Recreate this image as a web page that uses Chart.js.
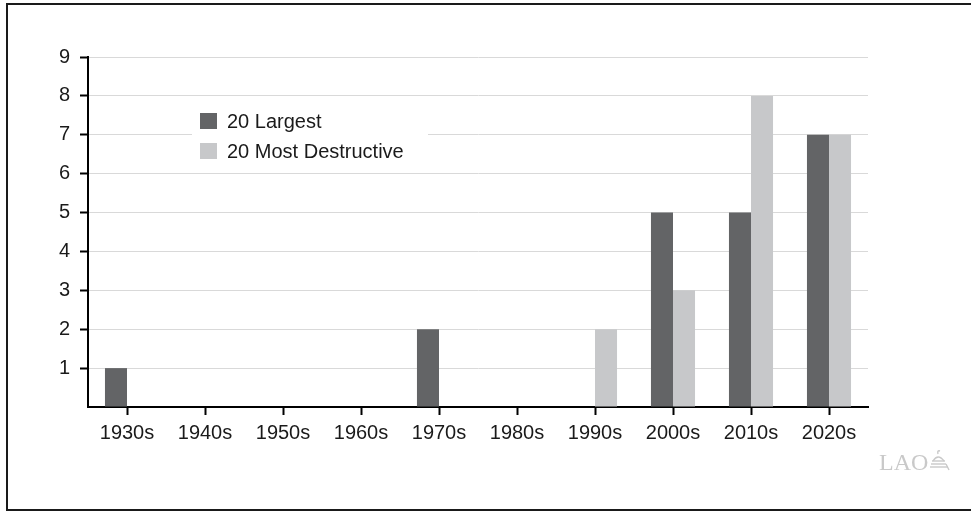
<!DOCTYPE html>
<html>
<head>
<meta charset="utf-8">
<script src="https://cdn.jsdelivr.net/npm/chart.js@4.4.1/dist/chart.umd.min.js"></script>
<style>
    html, body { margin: 0; padding: 0; background: #fff; }
    #wrap { position: relative; width: 971px; height: 512px; overflow: hidden; }
    #frame {
        position: absolute; left: 6px; top: 3px; width: 975px; height: 508px;
        border: 2px solid #1a1a1a; box-sizing: border-box;
    }
    #chart { position: absolute; left: 0; top: 0; }
    #logo {
        position: absolute; left: 879px; top: 449px;
        font-family: "Liberation Serif", "DejaVu Serif", serif;
        font-size: 24px; color: #c9c9c9;
        display: flex; align-items: flex-end;
    }
    #logo svg { margin-left: 1px; margin-bottom: 5px; }
</style>
</head>
<body>
<div id="wrap">
    <div id="frame"></div>
    <canvas id="chart" width="971" height="512"></canvas>
    <div id="logo">LAO<svg width="21" height="22" viewBox="0 0 21 22">
        <g fill="none" stroke="#c9c9c9" stroke-width="1.4">
            <path d="M9 5 Q8 1 11 2"/>
            <path d="M4 12 Q9 4 15 12"/>
            <line x1="3" y1="12" x2="16" y2="12"/>
            <line x1="2" y1="15" x2="17" y2="15"/>
            <line x1="1" y1="18" x2="19" y2="18"/>
            <line x1="17" y1="15" x2="20" y2="21"/>
        </g>
    </svg></div>
</div>
<script>
// Decades on the x axis
const decades = ['1930s', '1940s', '1950s', '1960s', '1970s', '1980s', '1990s', '2000s', '2010s', '2020s'];

// Number of fires per decade
const largest = [1, 0, 0, 0, 2, 0, 0, 5, 5, 7];
const mostDestructive = [0, 0, 0, 0, 0, 0, 2, 3, 8, 7];

const seriesLabels = ['20 Largest', '20 Most Destructive'];
const seriesColors = ['#636466', '#c7c8ca'];

const FONT = '"Liberation Sans", Arial, Helvetica, sans-serif';

// Legend drawn inside the plot, on a white box that hides the gridlines
const insideLegend = {
    id: 'insideLegend',
    afterDatasetsDraw(chart) {
        const ctx = chart.ctx;
        ctx.save();
        ctx.fillStyle = '#fff';
        ctx.fillRect(192, 104, 236, 62);
        ctx.font = '20px ' + FONT;
        ctx.textBaseline = 'middle';
        chart.data.datasets.forEach((ds, i) => {
            const cy = 121 + i * 30;
            ctx.fillStyle = ds.backgroundColor;
            ctx.fillRect(200, cy - 8, 17, 16);
            ctx.fillStyle = '#1a1a1a';
            ctx.fillText(ds.label, 227, cy + 1);
        });
        ctx.restore();
    }
};

new Chart(document.getElementById('chart'), {
    type: 'bar',
    data: {
        labels: decades,
        datasets: [
            { label: seriesLabels[0], data: largest, backgroundColor: seriesColors[0] },
            { label: seriesLabels[1], data: mostDestructive, backgroundColor: seriesColors[1] }
        ]
    },
    options: {
        responsive: false,
        animation: false,
        devicePixelRatio: 1,
        layout: { padding: { left: 0, top: 57, right: 103, bottom: 65 } },
        datasets: { bar: { categoryPercentage: 0.565, barPercentage: 1.0 } },
        plugins: {
            legend: { display: false },
            tooltip: { enabled: false }
        },
        scales: {
            x: {
                afterFit(scale) { scale.height = 40; },
                grid: {
                    offset: false,
                    drawOnChartArea: false,
                    drawTicks: true,
                    tickLength: 8,
                    tickColor: '#000',
                    tickWidth: 2
                },
                border: { color: '#000', width: 2 },
                ticks: { color: '#1a1a1a', font: { family: FONT, size: 20 }, padding: 6, maxRotation: 0 }
            },
            y: {
                min: 0,
                max: 9,
                afterFit(scale) { scale.width = 88; },
                grid: {
                    color: (c) => c.tick && c.tick.value === 0 ? 'rgba(0,0,0,0)' : '#d9d9d9',
                    tickColor: (c) => c.tick && c.tick.value === 0 ? 'rgba(0,0,0,0)' : '#000',
                    lineWidth: 1,
                    tickWidth: 2,
                    tickLength: 8
                },
                border: { color: '#000', width: 2 },
                ticks: {
                    stepSize: 1,
                    color: '#1a1a1a',
                    padding: 10,
                    font: { family: FONT, size: 20 },
                    callback: (v) => v === 0 ? '' : v
                }
            }
        }
    },
    plugins: [insideLegend]
});
</script>
</body>
</html>
